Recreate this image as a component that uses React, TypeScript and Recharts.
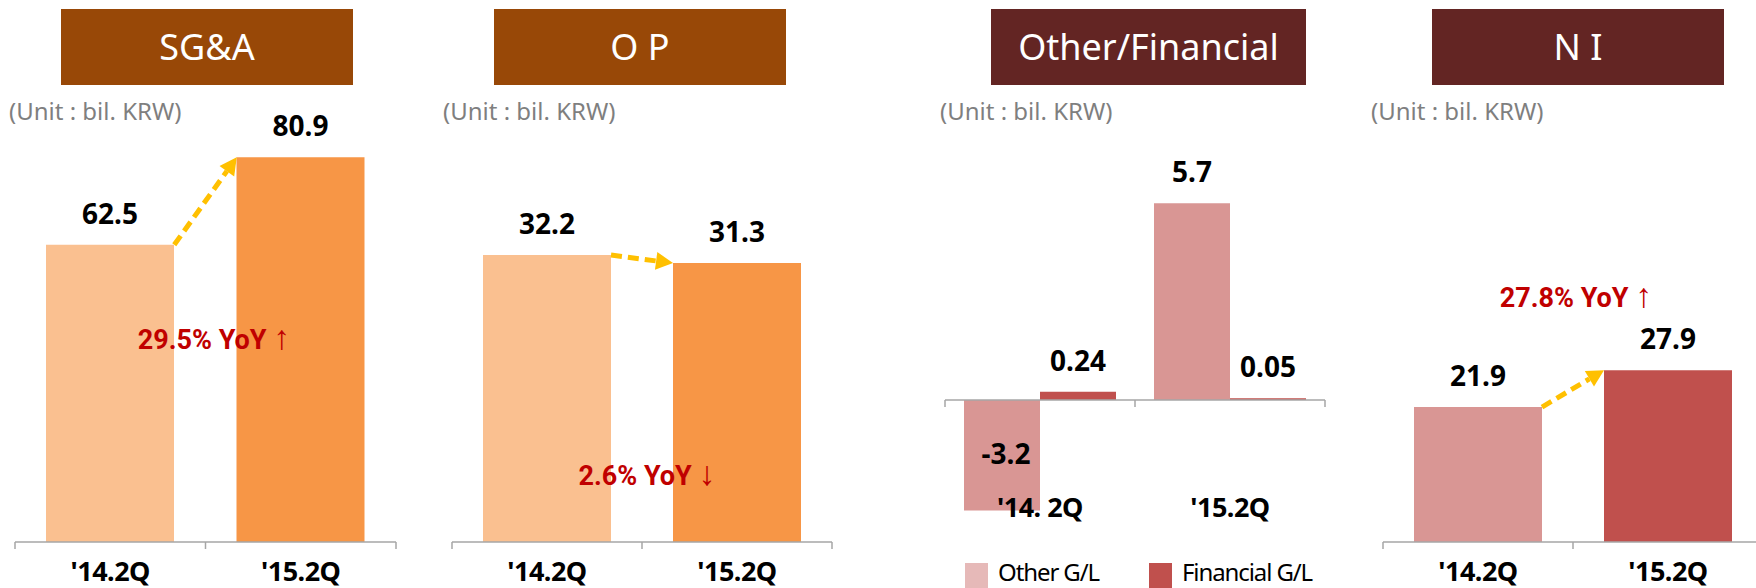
import React from "react";
import {
  BarChart,
  Bar,
  XAxis,
  YAxis,
  Cell,
  LabelList,
  ReferenceLine,
  Legend,
} from "recharts";

// quarters compared in every panel
const quarters = ["'14.2Q", "'15.2Q"];
const glQuarters = ["'14. 2Q", "'15.2Q"];

// bil. KRW
const sgaValues = [62.5, 80.9];
const opValues = [32.2, 31.3];
const niValues = [21.9, 27.9];
const otherGL = [-3.2, 5.7];
const financialGL = [0.24, 0.05];

const glSeries = ["Other G/L", "Financial G/L"];
const panelTitles = ["SG&A", "O P", "Other/Financial", "N I"];
const unitNote = "(Unit : bil. KRW)";
const yoyNotes = ["29.5% YoY ↑", "2.6% YoY ↓", "27.8% YoY ↑"];

const sgaData = quarters.map((q, i) => ({ q, value: sgaValues[i] }));
const opData = quarters.map((q, i) => ({ q, value: opValues[i] }));
const niData = quarters.map((q, i) => ({ q, value: niValues[i] }));
const glData = glQuarters.map((q, i) => ({
  q,
  other: otherGL[i],
  financial: financialGL[i],
}));

const FONT = "'Noto Sans', sans-serif";
const CHART_H = 588;

const titleLayout = [
  { left: 61, width: 292, bg: "#984807" },
  { left: 494, width: 292, bg: "#984807" },
  { left: 991, width: 315, bg: "#632523" },
  { left: 1432, width: 292, bg: "#632523" },
];
const unitLeft = [9, 443, 940, 1371];
const yoyLayout = [
  { cx: 214, cy: 337 },
  { cx: 647, cy: 473 },
  { cx: 1576, cy: 295 },
];

function ValueLabel(props: any) {
  const box = props.viewBox ?? props;
  const { x, y, width, height } = box;
  const value = props.value;
  const top = Math.min(y, y + height);
  const bottom = Math.max(y, y + height);
  const neg = value < 0;
  return (
    <text
      x={x + width / 2 + (neg ? 4 : 0)}
      y={neg ? (top + bottom) / 2 + 9 : top - 21}
      textAnchor="middle"
      fontFamily={FONT}
      fontWeight={700}
      fontSize={28}
      fill="#000"
    >
      {value}
    </text>
  );
}

// axis line with ticks on the category boundaries
function baselineShape(count: number) {
  return (p: any) => {
    const x1 = Number(p.x1);
    const x2 = Number(p.x2);
    const y = Number(p.y1);
    const step = (x2 - x1) / count;
    let d = `M${x1},${y}H${x2}`;
    for (let i = 0; i <= count; i++) d += `M${x1 + i * step},${y}v7`;
    return <path d={d} stroke="#A6A6A6" strokeWidth={1.5} fill="none" />;
  };
}

// dashed yellow arrow from one bar's top corner to the next bar's top corner
function arrowShape(halfBar: number) {
  return (p: any) => {
    const sx = Number(p.x1) + halfBar;
    const sy = Number(p.y1);
    const ex = Number(p.x2) - halfBar;
    const ey = Number(p.y2);
    const len = Math.hypot(ex - sx, ey - sy);
    const ux = (ex - sx) / len;
    const uy = (ey - sy) / len;
    const head = 17;
    const hw = 9;
    const bx = ex - ux * head;
    const by = ey - uy * head;
    return (
      <g>
        <line
          x1={sx}
          y1={sy}
          x2={bx}
          y2={by}
          stroke="#FFC000"
          strokeWidth={5}
          strokeDasharray="11 6"
        />
        <polygon
          points={`${ex},${ey} ${bx - uy * hw},${by + ux * hw} ${bx + uy * hw},${by - ux * hw}`}
          fill="#FFC000"
        />
      </g>
    );
  };
}

function quarterTick(dy: number) {
  return (p: any) => (
    <text
      x={p.x}
      y={p.y + dy}
      textAnchor="middle"
      fontFamily={FONT}
      fontWeight={700}
      fontSize={27}
      letterSpacing={-0.5}
      fill="#000"
    >
      {p.payload.value}
    </text>
  );
}

type CompareProps = {
  data: { q: string; value: number }[];
  colors: string[];
  maxY: number;
  left: number;
  width: number;
  margin: { top: number; right: number; bottom: number; left: number };
};

function CompareChart({ data, colors, maxY, left, width, margin }: CompareProps) {
  const barSize = 128;
  return (
    <div style={{ position: "absolute", left, top: 0 }}>
      <BarChart width={width} height={CHART_H} data={data} margin={margin}>
        <XAxis
          dataKey="q"
          height={46}
          axisLine={false}
          tickLine={false}
          tickSize={0}
          tickMargin={0}
          interval={0}
          tick={quarterTick(39)}
        />
        <YAxis hide domain={[0, maxY]} />
        <Bar dataKey="value" barSize={barSize} isAnimationActive={false}>
          {data.map((d, i) => (
            <Cell key={d.q} fill={colors[i]} />
          ))}
          <LabelList dataKey="value" content={ValueLabel} />
        </Bar>
        <ReferenceLine y={0} ifOverflow="visible" shape={baselineShape(data.length)} />
        <ReferenceLine
          ifOverflow="visible"
          segment={[
            { x: data[0].q, y: data[0].value },
            { x: data[1].q, y: data[1].value },
          ]}
          shape={arrowShape(barSize / 2)}
        />
      </BarChart>
    </div>
  );
}

function GainLossChart() {
  const legendColors = ["#E6B9B8", "#C0504D"];
  return (
    <div style={{ position: "absolute", left: 935, top: 0 }}>
      <BarChart
        width={400}
        height={CHART_H}
        data={glData}
        barGap={0}
        margin={{ top: 193, right: 10, bottom: 0, left: 10 }}
      >
        <XAxis
          dataKey="q"
          height={50}
          axisLine={false}
          tickLine={false}
          tickSize={0}
          tickMargin={0}
          interval={0}
          tick={quarterTick(-21)}
        />
        <YAxis hide domain={[-4, 6]} />
        <Bar dataKey="other" name={glSeries[0]} fill="#D99694" barSize={76} isAnimationActive={false}>
          <LabelList dataKey="other" content={ValueLabel} />
        </Bar>
        <Bar dataKey="financial" name={glSeries[1]} fill="#C0504D" barSize={76} isAnimationActive={false}>
          <LabelList dataKey="financial" content={ValueLabel} />
        </Bar>
        <ReferenceLine y={0} ifOverflow="visible" shape={baselineShape(glData.length)} />
        <Legend
          layout="horizontal"
          verticalAlign="middle"
          align="center"
          wrapperStyle={{ left: 30, top: 560, width: "auto", height: 24 }}
          content={() => (
            <div style={{ display: "flex", gap: 50 }}>
              {glSeries.map((name, i) => (
                <div key={name} style={{ display: "flex", alignItems: "flex-start" }}>
                  <span
                    style={{
                      display: "inline-block",
                      width: 23,
                      height: 28,
                      marginTop: 3,
                      background: legendColors[i],
                      marginRight: 10,
                    }}
                  />
                  <span
                    style={{
                      fontFamily: FONT,
                      fontSize: 24,
                      letterSpacing: -1.1,
                      lineHeight: "24px",
                      color: "#000",
                    }}
                  >
                    {name}
                  </span>
                </div>
              ))}
            </div>
          )}
        />
      </BarChart>
    </div>
  );
}

export default function App() {
  return (
    <div
      style={{
        position: "absolute",
        left: 0,
        top: 0,
        width: 1756,
        height: 588,
        overflow: "hidden",
        background: "#fff",
      }}
    >
      <CompareChart
        data={sgaData}
        colors={["#FAC090", "#F79646"]}
        maxY={100}
        left={0}
        width={406}
        margin={{ top: 66.5, right: 10, bottom: 0, left: 15 }}
      />
      <CompareChart
        data={opData}
        colors={["#FAC090", "#F79646"]}
        maxY={50}
        left={440}
        width={402}
        margin={{ top: 96.5, right: 10, bottom: 0, left: 12 }}
      />
      <GainLossChart />
      <CompareChart
        data={niData}
        colors={["#D99694", "#C0504D"]}
        maxY={60}
        left={1373}
        width={400}
        margin={{ top: 172.4, right: 10, bottom: 0, left: 10 }}
      />

      {panelTitles.map((t, i) => (
        <div
          key={t}
          style={{
            position: "absolute",
            left: titleLayout[i].left,
            top: 9,
            width: titleLayout[i].width,
            height: 76,
            background: titleLayout[i].bg,
            color: "#fff",
            fontFamily: FONT,
            fontSize: 36,
            lineHeight: "76px",
            textAlign: "center",
          }}
        >
          {t}
        </div>
      ))}

      {unitLeft.map((x, i) => (
        <div
          key={i}
          style={{
            position: "absolute",
            left: x,
            top: 98,
            fontFamily: FONT,
            fontSize: 24,
            lineHeight: "26px",
            color: "#7F7F7F",
            whiteSpace: "nowrap",
          }}
        >
          {unitNote}
        </div>
      ))}

      {yoyNotes.map((t, i) => (
        <div
          key={t}
          style={{
            position: "absolute",
            left: yoyLayout[i].cx - 120,
            top: yoyLayout[i].cy - 16,
            width: 240,
            textAlign: "center",
            fontFamily: "Roboto, sans-serif",
            fontWeight: 700,
            fontSize: 27,
            lineHeight: "32px",
            color: "#C00000",
            whiteSpace: "nowrap",
          }}
        >
          {t.slice(0, -1)}
          <span style={{ fontSize: 34, fontWeight: 400 }}>{t.slice(-1)}</span>
        </div>
      ))}
    </div>
  );
}
